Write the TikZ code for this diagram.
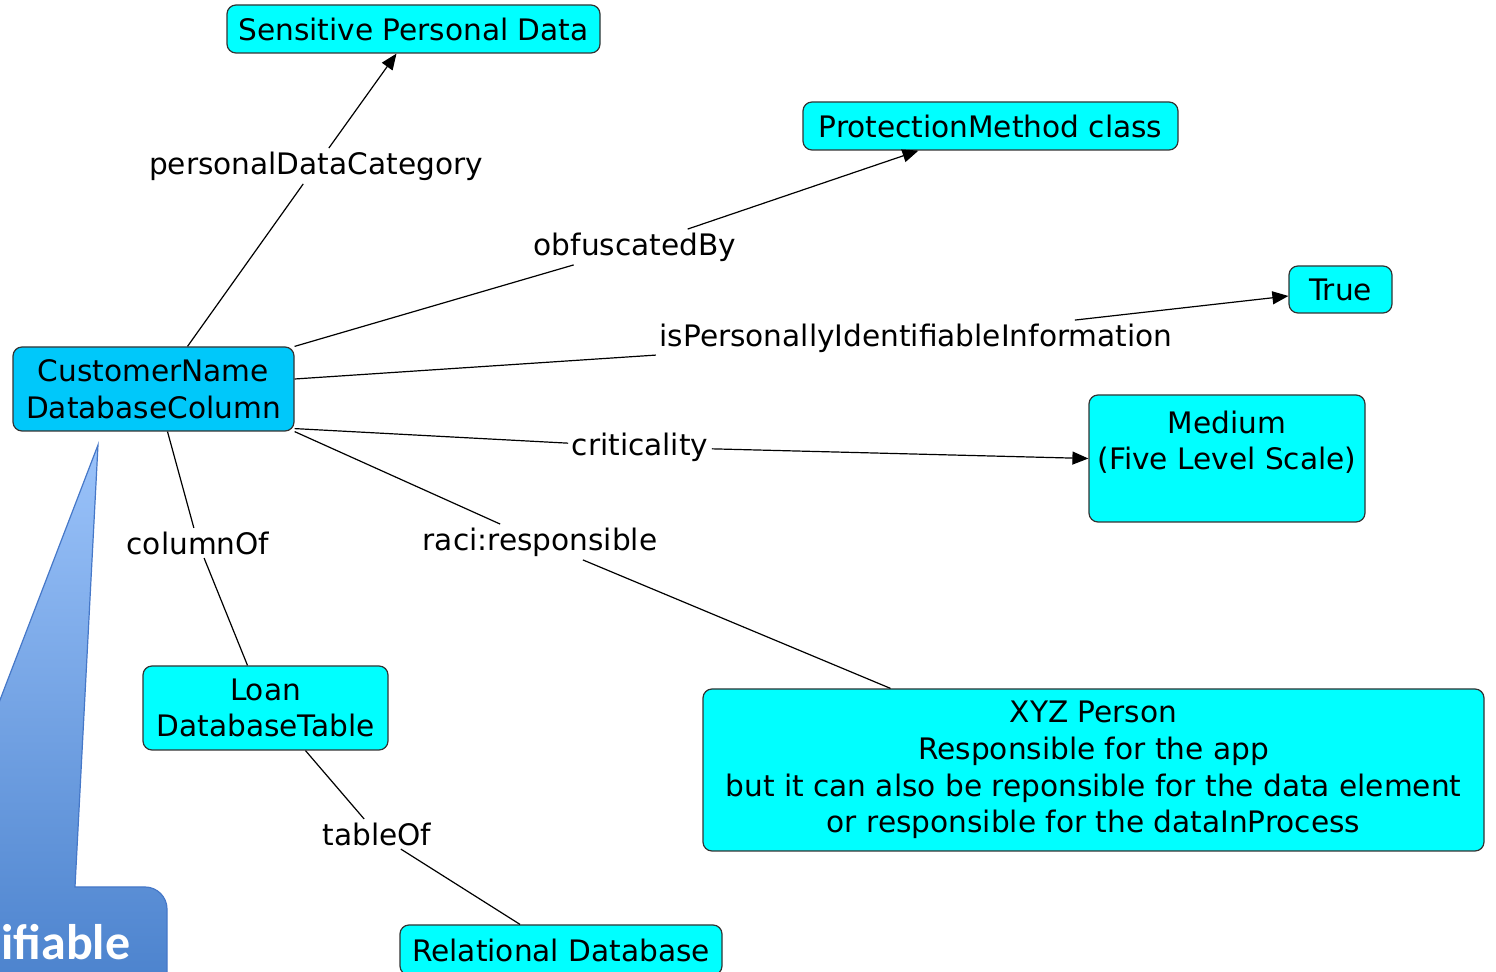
\documentclass[tikz,border=0pt]{standalone}
\usepackage{fontspec}
\setmainfont{DejaVu Sans}
\newfontfamily\calloutfont{Carlito}
\usetikzlibrary{arrows.meta}

\definecolor{boxcyan}{RGB}{0,255,255}
\definecolor{colcyan}{RGB}{0,200,250}
\definecolor{calltop}{RGB}{155,195,250}
\definecolor{callbot}{RGB}{75,130,205}
\definecolor{callline}{RGB}{70,120,200}

\begin{document}
\begin{tikzpicture}[x=0.5pt,y=-0.5pt,line width=0.6pt,
  every node/.style={font=\fontsize{14.8}{18.3}\selectfont},
  box/.style={draw=black!80,fill=boxcyan,rounded corners=4.5pt,align=center,inner sep=0pt},
  lbl/.style={inner sep=1.5pt},
  tip/.style={-{Triangle[length=8pt,width=6.5pt]}}]

\clip (0,0) rectangle (1496,972);

% callout
\shade[top color=calltop,bottom color=callbot,draw=callline,line width=0.6pt]
  (98,445) -- (75,887) -- (145,887) arc[start angle=-90,end angle=0,radius=22]
  -- (167,990) -- (-10,990) -- (-10,726) -- cycle;
\node[font=\calloutfont\bfseries\fontsize{25}{30}\selectfont,text=white,anchor=base east,inner sep=0pt] (callout) at (131,960) {ifiable};

\node[box,minimum width=186.5pt,minimum height=24pt] (spd) at (413.5,29) {Sensitive Personal Data};
\node[box,minimum width=187.5pt,minimum height=24pt] (pm) at (990.5,126) {ProtectionMethod class};
\node[box,minimum width=51.5pt,minimum height=23.5pt] (true) at (1340.5,289.5) {True};
\node[box,minimum width=138pt,minimum height=63.5pt] (med) at (1227,458.5) {Medium\\(Five Level Scale)\\\mbox{}};
\node[box,fill=colcyan,minimum width=140.5pt,minimum height=42pt] (cust) at (153.5,389) {CustomerName\\DatabaseColumn};
\node[box,minimum width=122.5pt,minimum height=42pt] (loan) at (265.5,708) {Loan\\DatabaseTable};
\node[box,minimum width=390.5pt,minimum height=81pt] (xyz) at (1093.5,770) {XYZ Person\\Responsible for the app\\but it can also be reponsible for the data element\\or responsible for the dataInProcess};
\node[box,minimum width=161pt,minimum height=25pt] (rdb) at (561,950) {Relational Database};

\node[lbl] (lpdc) at (316,166) {personalDataCategory};
\node[lbl] (lobf) at (635,247) {obfuscatedBy};
\node[lbl] (lpii) at (916,338) {isPersonallyIdentifiableInformation};
\node[lbl] (lcrit) at (640,447) {criticality};
\node[lbl] (lraci) at (540,542) {raci:responsible};
\node[lbl] (lcol) at (198,543) {columnOf};
\node[lbl] (ltab) at (377,834) {tableOf};

\draw[tip] ([xshift=17pt]cust.north) -- (lpdc) -- ([xshift=-8.5pt]spd.south);
\draw[tip] (cust.north east) -- (lobf) -- ([xshift=-36pt]pm.south);
\draw[tip] ([yshift=5pt]cust.east) -- (lpii) -- ([yshift=-3.25pt]true.west);
\draw[tip] ([yshift=1.5pt]cust.south east) -- (lcrit) -- (med.west);
\draw (cust.south east) -- (lraci) -- ([xshift=-101.5pt]xyz.north);
\draw ([xshift=7pt]cust.south) -- (lcol) -- ([xshift=-9pt]loan.north);
\draw ([xshift=20pt]loan.south) -- (ltab) -- ([xshift=-20.5pt]rdb.north);

\end{tikzpicture}
\end{document}
